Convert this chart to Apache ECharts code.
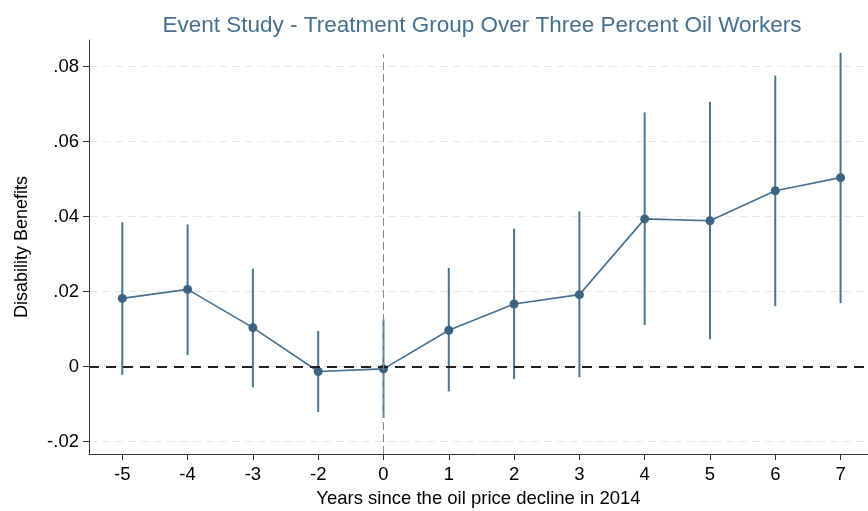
<!DOCTYPE html>
<html>
<head>
<meta charset="utf-8">
<script src="https://cdn.jsdelivr.net/npm/echarts@6/dist/echarts.min.js"></script>
<style>
  html, body { margin: 0; padding: 0; background: #fff; }
  #chart { width: 868px; height: 511px; }
</style>
</head>
<body>
<div id="chart"></div>
<script>
// years relative to 2014 (-1 is the omitted reference year)
const years = ["-5", "-4", "-3", "-2", "0", "1", "2", "3", "4", "5", "6", "7"];
const coef = [0.0182, 0.0206, 0.0104, -0.0013, -0.0006, 0.0097, 0.0167, 0.0192, 0.0394, 0.0389, 0.0469, 0.0504];
const ciLow = [-0.0022, 0.0031, -0.0055, -0.0121, -0.0137, -0.0066, -0.0033, -0.0028, 0.0111, 0.0073, 0.0161, 0.0169];
const ciHigh = [0.0385, 0.0379, 0.0261, 0.0095, 0.0126, 0.0263, 0.0368, 0.0414, 0.0678, 0.0706, 0.0776, 0.0837];
const yTicks = [-0.02, 0, 0.02, 0.04, 0.06, 0.08];

const yMin = -0.0233;
const yMax = 0.0871;
const xIdx = years.map((_, i) => i);
const eventIdx = years.indexOf("0");
const fmtY = (v) => (Math.abs(v) < 1e-9 ? "0" : v.toFixed(2).replace("0.", "."));

const chart = echarts.init(document.getElementById("chart"));
chart.setOption({
  animation: false,
  backgroundColor: "#fff",
  textStyle: { fontFamily: "Liberation Sans, Arial, sans-serif" },
  title: {
    text: "Event Study - Treatment Group Over Three Percent Oil Workers",
    left: 477,
    top: 9,
    textAlign: "center",
    textStyle: { color: "#46708e", fontSize: 22.5, fontWeight: "normal" },
  },
  grid: { left: 89, right: 0, top: 40, bottom: 57, outerBoundsMode: "none" },
  xAxis: {
    type: "value",
    min: -0.51,
    max: 11.42,
    name: "Years since the oil price decline in 2014",
    nameLocation: "middle",
    nameGap: 35,
    nameTextStyle: { color: "#000", fontSize: 18.5 },
    axisLine: { onZero: false, lineStyle: { color: "#333", width: 1 } },
    axisTick: { customValues: xIdx, length: 6, lineStyle: { color: "#333" } },
    axisLabel: {
      customValues: xIdx,
      color: "#000",
      fontSize: 18.5,
      margin: 11,
      formatter: (v) => years[Math.round(v)],
    },
    splitLine: { show: false },
  },
  yAxis: {
    type: "value",
    min: yMin,
    max: yMax,
    name: "Disability Benefits",
    nameLocation: "middle",
    nameGap: 58,
    nameTextStyle: { color: "#000", fontSize: 18 },
    axisLine: { show: true, onZero: false, lineStyle: { color: "#333", width: 1 } },
    axisTick: { show: true, customValues: yTicks, length: 6, lineStyle: { color: "#333" } },
    axisLabel: { customValues: yTicks, color: "#000", fontSize: 18.5, margin: 10, formatter: fmtY },
    splitLine: { show: true, lineStyle: { color: "#e8e8e8", type: [8, 5], width: 1 } },
  },
  series: [
    {
      type: "custom",
      name: "ci",
      z: 2,
      data: xIdx.map((i) => [i, ciLow[i], ciHigh[i]]),
      encode: { x: 0, y: [1, 2] },
      renderItem: (params, api) => {
        const lo = api.coord([api.value(0), api.value(1)]);
        const hi = api.coord([api.value(0), api.value(2)]);
        return {
          type: "line",
          shape: { x1: lo[0], y1: lo[1], x2: hi[0], y2: hi[1] },
          style: { stroke: "#4c7493", lineWidth: 2 },
        };
      },
    },
    {
      type: "line",
      name: "coef",
      z: 3,
      data: xIdx.map((i) => [i, coef[i]]),
      symbol: "circle",
      symbolSize: 9,
      itemStyle: { color: "#3d6380" },
      lineStyle: { color: "#46708e", width: 1.6 },
      markLine: {
        silent: true,
        symbol: "none",
        label: { show: false },
        data: [
          { yAxis: 0, lineStyle: { color: "#222", type: [10, 7], width: 2 } },
          [
            { coord: [eventIdx, yMin], lineStyle: { color: "#888", type: [8, 4], width: 1 } },
            { coord: [eventIdx, 0.0833] },
          ],
        ],
      },
    },
  ],
});
window.addEventListener("resize", () => chart.resize());
</script>
</body>
</html>
